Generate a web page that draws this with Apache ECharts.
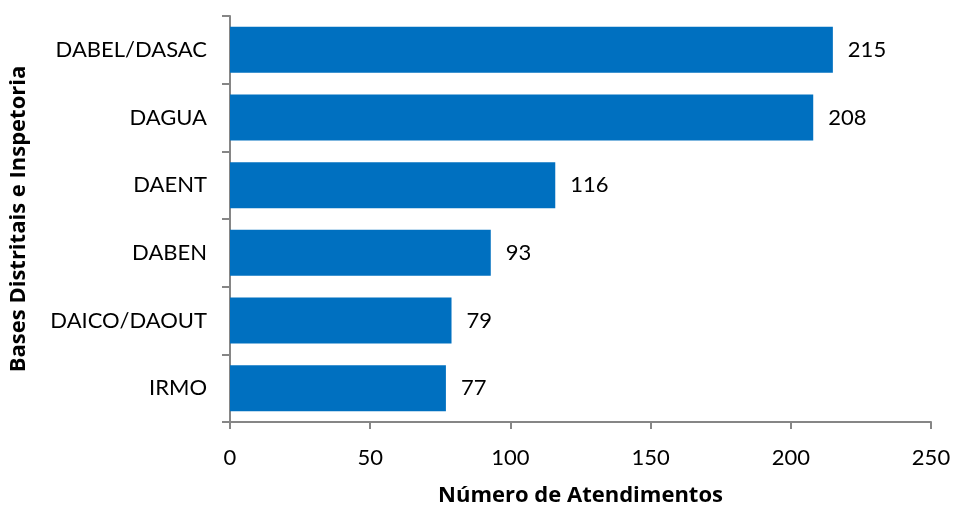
<!DOCTYPE html>
<html><head><meta charset="utf-8">
<script src="https://cdn.jsdelivr.net/npm/echarts@6/dist/echarts.min.js"></script>
<style>html,body{margin:0;padding:0;background:#fff}#c{width:954px;height:506px}</style>
</head><body><div id="c"></div>
<script>
const categories = ['DABEL/DASAC','DAGUA','DAENT','DABEN','DAICO/DAOUT','IRMO'];
const values = [215,208,116,93,79,77];
const xTicks = [0,50,100,150,200,250];

const chart = echarts.init(document.getElementById('c'));
const FONT = 'Lato';
const TFONT = 'Open Sans';
chart.setOption({
  animation:false,
  grid:{left:230,right:23,top:16,bottom:84,containLabel:false,outerBoundsMode:'none'},
  xAxis:{type:'value',min:xTicks[0],max:xTicks[xTicks.length-1],interval:50,
    name:'Número de Atendimentos',nameLocation:'middle',nameGap:63,
    nameTextStyle:{fontFamily:TFONT,fontWeight:'bold',fontSize:22,color:'#000'},
    axisLine:{show:true,lineStyle:{color:'#868686',width:2}},
    axisTick:{show:true,length:7,lineStyle:{color:'#868686',width:2}},
    splitLine:{show:false},
    axisLabel:{fontFamily:FONT,fontSize:22,color:'#000',margin:25}},
  yAxis:{type:'category',data:categories,inverse:true,
    name:'Bases Distritais e Inspetoria',nameLocation:'middle',nameGap:200,
    nameTextStyle:{fontFamily:TFONT,fontWeight:'bold',fontSize:22,color:'#000'},
    axisLine:{show:true,lineStyle:{color:'#868686',width:2}},
    axisTick:{show:true,length:8,lineStyle:{color:'#868686',width:2}},
    axisLabel:{fontFamily:FONT,fontSize:22,color:'#000',margin:23}},
  series:[{type:'bar',data:values,barWidth:'68%',
    itemStyle:{color:'#0070C0'},
    label:{show:true,position:'right',distance:15,fontFamily:FONT,fontSize:22,color:'#000'}}]
});
</script></body></html>
